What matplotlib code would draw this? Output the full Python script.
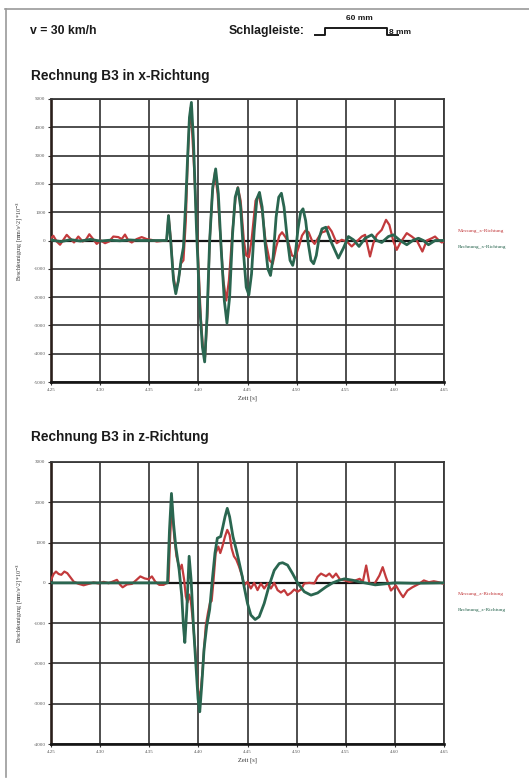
import numpy as np
import matplotlib.pyplot as plt
from matplotlib.lines import Line2D

W, H = 529, 779

# ---- data ----
# x-Richtung, Messung (red)
t_mx = [4.250, 4.2524, 4.2558, 4.2592, 4.2626, 4.266, 4.2693, 4.2734, 4.2778, 4.2823,
        4.2856, 4.289, 4.2931, 4.2965, 4.3006, 4.305, 4.3094, 4.3134, 4.3185, 4.322,
        4.3253, 4.3287, 4.3322, 4.3372, 4.3423, 4.3474, 4.3525, 4.3576, 4.3643, 4.3677,
        4.3696, 4.372, 4.3743, 4.377, 4.3794, 4.3821, 4.3848, 4.3872, 4.3889, 4.3906,
        4.3923, 4.3956, 4.399, 4.4024, 4.4051, 4.4068, 4.4092, 4.4115, 4.4142, 4.4169,
        4.4196, 4.4227, 4.4254, 4.4284, 4.4311, 4.4345, 4.4379, 4.4402, 4.443, 4.4463,
        4.4487, 4.4514, 4.4541, 4.4582, 4.4615, 4.4649, 4.4683, 4.4724, 4.4757, 4.4791,
        4.4825, 4.4852, 4.4886, 4.492, 4.4953, 4.4987, 4.5021, 4.5055, 4.5089, 4.5122,
        4.5156, 4.5183, 4.5224, 4.5258, 4.5289, 4.5323, 4.5357, 4.5408, 4.5459, 4.551,
        4.5561, 4.5612, 4.5663, 4.5697, 4.5747, 4.5781, 4.5816, 4.5866, 4.591, 4.5944,
        4.5985, 4.6019, 4.6053, 4.6121, 4.6172, 4.6223, 4.628, 4.6325, 4.6376, 4.6409,
        4.6443, 4.6477, 4.65]
v_mx = [80, 165, -35, -150, 25, 200, 80, -70, 140, -35,
        30, 220, 40, -120, 0, -95, -30, 140, 120, 50,
        210, 0, -70, 50, 120, 50, 20, -35, -10, 0,
        880, 0, -1180, -1760, -1470, -820, -700, 700, 2590, 4000,
        4700, 2590, 0, -2700, -4000, -4120, -2590, 0, 1650, 2410,
        1650, 0, -1410, -2120, -1410, 235, 1530, 1880, 1410, 0,
        -530, -590, 0, 1410, 1590, 1060, 0, -700, -820, -235,
        175, 290, 120, -120, -530, -590, -235, 175, 350, 290,
        0, -120, 120, 290, 320, 490, 320, -95, 25, -35,
        -210, -35, 140, 200, -565, -95, 200, 375, 730, 550,
        -35, -330, -95, 260, 140, 0, -390, 0, 80, 140,
        20, -70, -35]

# x-Richtung, Rechnung (green)
t_rx = [4.25, 4.26, 4.27, 4.28, 4.29, 4.30, 4.31, 4.32, 4.33, 4.34, 4.35, 4.3676,
        4.3696, 4.372, 4.3747, 4.377, 4.3797, 4.3824, 4.3848, 4.3872, 4.3892, 4.3909,
        4.3929, 4.395, 4.398, 4.4014, 4.4041, 4.4064, 4.4088, 4.4115, 4.4146, 4.4176,
        4.4203, 4.4233, 4.4264, 4.4291, 4.4318, 4.4348, 4.4375, 4.4402, 4.443, 4.446,
        4.4487, 4.4514, 4.4541, 4.4568, 4.4595, 4.4622, 4.4649, 4.468, 4.4707, 4.4734,
        4.4761, 4.4791, 4.4818, 4.4845, 4.4872, 4.4903, 4.4933, 4.496, 4.4987, 4.5014,
        4.5041, 4.5065, 4.5092, 4.5119, 4.5146, 4.5173, 4.52, 4.5227, 4.5258, 4.5298,
        4.5357, 4.5425, 4.5476, 4.5527, 4.5578, 4.5635, 4.5697, 4.5764, 4.5816, 4.5866,
        4.5934, 4.5985, 4.6053, 4.6121, 4.6182, 4.624, 4.629, 4.6342, 4.6409, 4.65]
v_rx = [20, -40, 30, -20, 40, -20, 10, -10, 20, 0, 0, 0,
        880, -100, -1410, -1880, -1410, -700, -235, 1410, 3060, 4350,
        4880, 3530, 470, -2350, -3760, -4290, -2700, 0, 1880, 2530,
        1650, -350, -2120, -2920, -2000, 235, 1530, 1860, 1180, -470,
        -1650, -1920, -1180, 350, 1470, 1700, 1180, -120, -1000, -1235,
        -590, 820, 1530, 1670, 1180, 120, -700, -880, -470, 410,
        1000, 1120, 700, -120, -700, -820, -530, 60, 410, 470,
        -95, -620, -270, 140, 25, -210, 80, 200, 0, -70,
        140, 200, 0, -150, 0, 80, 0, -150, 0, 0]

# z-Richtung, Messung (red)
t_mz = [4.25, 4.2527, 4.2551, 4.2578, 4.2605, 4.2636, 4.2666, 4.2697, 4.2731, 4.2781,
        4.2832, 4.2883, 4.2934, 4.2985, 4.3036, 4.3086, 4.3137, 4.3171, 4.3205, 4.3229,
        4.3273, 4.3324, 4.3364, 4.3409, 4.3453, 4.3493, 4.3527, 4.3561, 4.3602, 4.3646,
        4.3673, 4.3696, 4.3713, 4.373, 4.3754, 4.3777, 4.3811, 4.3831, 4.3855, 4.3872,
        4.3889, 4.3906, 4.3923, 4.3946, 4.3973, 4.3997, 4.4017, 4.4041, 4.4058, 4.4075,
        4.4098, 4.4119, 4.4135, 4.4152, 4.4176, 4.4203, 4.4223, 4.4244, 4.4271, 4.4294,
        4.4318, 4.4338, 4.4362, 4.4386, 4.4413, 4.4446, 4.4466, 4.45, 4.4534, 4.4568,
        4.4602, 4.4636, 4.467, 4.4704, 4.4738, 4.4772, 4.4806, 4.484, 4.4874, 4.4908,
        4.4942, 4.4976, 4.501, 4.5044, 4.5078, 4.5129, 4.518, 4.5214, 4.5248, 4.5299,
        4.5333, 4.5367, 4.5401, 4.5442, 4.5486, 4.5537, 4.5588, 4.5641, 4.5674, 4.5708,
        4.5742, 4.5792, 4.5842, 4.5876, 4.5909, 4.596, 4.601, 4.606, 4.6084, 4.6128,
        4.6178, 4.6245, 4.6295, 4.6346, 4.6396, 4.6446, 4.65]
v_mz = [75, 220, 280, 220, 200, 280, 240, 140, 30, -25,
        -60, -25, 10, -15, 25, -10, 40, 75, -50, -110,
        -40, -25, 60, 160, 110, 90, 160, 30, -50, -50,
        -10, 40, 1150, 1970, 1150, 660, 330, 450, 80, -330,
        -490, -290, -450, -990, -1810, -2670, -2880, -2220, -1640, -1070,
        -740, -490, -450, 0, 740, 900, 740, 900, 1150, 1315,
        1190, 860, 660, 575, 410, 165, -60, 25, -140, 0,
        -180, -15, -140, -15, -140, 0, -180, -240, -180, -305,
        -250, -165, -220, -165, -15, 0, -15, 150, 230, 165,
        230, 130, 230, 80, 65, 25, 50, 100, 30, 430,
        -25, -25, 180, 390, 140, -190, -65, -270, -355, -190,
        -110, -25, 60, 15, 40, 15, -25]

# z-Richtung, Rechnung (green)
t_rz = [4.25, 4.30, 4.35, 4.3686, 4.3706, 4.3726, 4.3747, 4.377, 4.3804, 4.3831,
        4.3848, 4.3862, 4.3882, 4.3906, 4.3926, 4.395, 4.3973, 4.3997, 4.4014, 4.4034,
        4.4058, 4.4085, 4.4115, 4.4142, 4.4169, 4.4193, 4.4227, 4.425, 4.4271, 4.4294,
        4.4318, 4.4352, 4.4386, 4.4413, 4.4446, 4.4466, 4.45, 4.4534, 4.4578, 4.4619,
        4.467, 4.4721, 4.4772, 4.4823, 4.4857, 4.4908, 4.4959, 4.501, 4.5078, 4.5146,
        4.5214, 4.5299, 4.5367, 4.5435, 4.5486, 4.5571, 4.5639, 4.58, 4.60, 4.62, 4.65]
v_rz = [0, 0, 0, 0, 1315, 2220, 1480, 900, 330, -330,
        -1070, -1480, -660, 660, 80, -1070, -1970, -2880, -3200, -2550,
        -1640, -1070, -660, 80, 740, 1110, 1150, 1400, 1640, 1850,
        1640, 1150, 820, 530, 165, -100, -510, -800, -910, -840,
        -510, -60, 310, 480, 500, 440, 230, 0, -220, -305,
        -250, -100, 0, 65, 100, 65, 25, -50, 0, -10, 0]

x_ticks = [4.25, 4.30, 4.35, 4.40, 4.45, 4.50, 4.55, 4.60, 4.65]
y_ticks_x = list(range(-5000, 5001, 1000))
y_ticks_z = list(range(-4000, 3001, 1000))

RED = '#c23a3c'
GREEN = '#2a6650'
GRID = '#383838'


def fx(x):
    return x / W


def fy(y):
    return 1 - y / H


fig = plt.figure(figsize=(W / 100, H / 100), dpi=100)

# page border (scan edge)
fig.add_artist(Line2D([fx(5), fx(529)], [fy(8.5), fy(8.5)], color='#9a9a9a', lw=1.2))
fig.add_artist(Line2D([fx(5.5), fx(5.5)], [fy(8.5), fy(777)], color='#9a9a9a', lw=1.2))

# header
hdr = dict(family='Liberation Sans', weight='bold', color='#1a1a1a')
fig.text(fx(30), fy(31), 'v = 30 km/h', fontsize=8.8, va='center', **hdr)
fig.text(fx(229), fy(31), 'Schlagleiste:', fontsize=8.8, va='center', **hdr)
prof_x = [315, 325, 325, 387, 387, 398]
prof_y = [35, 35, 28, 28, 35, 35]
fig.add_artist(Line2D([fx(v) for v in prof_x], [fy(v) for v in prof_y],
                      color='#1a1a1a', lw=1.4))
fig.text(fx(359), fy(19), '60 mm', fontsize=6, ha='center', va='center', **hdr)
fig.text(fx(389), fy(32.5), '8 mm', fontsize=6, va='center', **hdr)


def panel(bottom_px, top_px, title, title_y, t_m, v_m, t_r, v_r, yticks, names, leg_y):
    ax = fig.add_axes([fx(51), fy(bottom_px), (444 - 51) / W, (bottom_px - top_px) / H])
    ax.plot(t_m, v_m, color=RED, lw=1.6, zorder=3, solid_joinstyle='round')
    ax.plot(t_r, v_r, color=GREEN, lw=2.0, zorder=4, solid_joinstyle='round')
    ax.axhline(0, color='#151515', lw=1.6, zorder=2)
    ax.set_xlim(4.25, 4.65)
    ax.set_ylim(yticks[0], yticks[-1])
    ax.set_xticks(x_ticks)
    ax.set_yticks(yticks)
    ax.set_xticklabels([f'{t:.2f}' for t in x_ticks])
    ax.set_yticklabels([str(v) for v in yticks])
    ax.grid(True, color=GRID, lw=1.25)
    ax.set_axisbelow(True)
    for s in ax.spines.values():
        s.set_color(GRID)
        s.set_linewidth(1.3)
    ax.spines['left'].set_color('#2a1f1a')
    ax.spines['left'].set_linewidth(1.9)
    ax.spines['bottom'].set_color('#151515')
    ax.spines['bottom'].set_linewidth(1.9)
    ax.tick_params(length=2, width=0.8, pad=2, labelsize=3.6, labelcolor='#555555',
                   color='#333333')
    for lab in ax.get_xticklabels() + ax.get_yticklabels():
        lab.set_family('Liberation Serif')
    ax.set_xlabel('Zeit [s]', fontsize=4.6, family='Liberation Serif', color='#333333',
                  labelpad=3)
    ax.set_ylabel(r'Beschleunigung [mm/s^2] *10$^{-3}$', fontsize=4.2,
                  family='Liberation Serif', color='#333333', labelpad=6)
    fig.text(fx(31), fy(title_y), title, fontsize=9.8, va='center', **hdr)
    fig.text(fx(458), fy(leg_y[0]), names[0], fontsize=3.9, color=RED,
             family='Liberation Serif', va='center')
    fig.text(fx(458), fy(leg_y[1]), names[1], fontsize=3.9, color=GREEN,
             family='Liberation Serif', va='center')
    return ax


panel(382, 99, 'Rechnung B3 in x-Richtung', 76, t_mx, v_mx, t_rx, v_rx, y_ticks_x,
      ['Messung_x-Richtung', 'Rechnung_x-Richtung'], (231, 247))
panel(744, 462, 'Rechnung B3 in z-Richtung', 437, t_mz, v_mz, t_rz, v_rz, y_ticks_z,
      ['Messung_z-Richtung', 'Rechnung_z-Richtung'], (594, 610))

fig.savefig('out.png', dpi=100)
